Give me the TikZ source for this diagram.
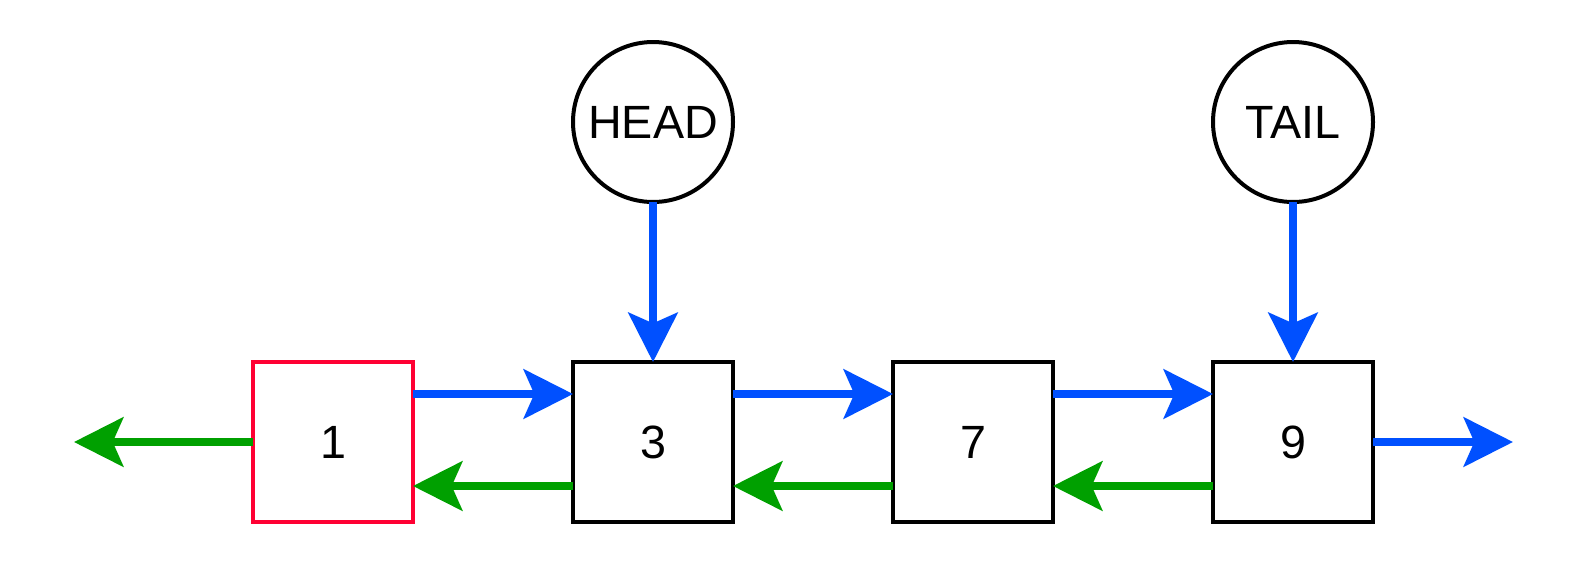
\documentclass[tikz,border=0pt]{standalone}
\usepackage{fontspec}
\setmainfont{Liberation Sans}
\usetikzlibrary{positioning, arrows.meta}
\definecolor{nextblue}{RGB}{0,80,255}
\definecolor{prevgreen}{RGB}{0,160,0}
\definecolor{delred}{RGB}{255,0,51}
\tikzset{
    listbox/.style={draw=black, line width=3pt, minimum size=120pt, inner sep=0pt, outer sep=0pt, font=\fontsize{35}{42}\selectfont},
    delbox/.style={listbox, draw=delred},
    ptrcirc/.style={draw=black, circle, line width=3pt, minimum size=120pt, inner sep=0pt, outer sep=0pt, font=\fontsize{35}{42}\selectfont},
    nextarr/.style={draw=nextblue, line width=5.5pt, -{Stealth[length=37pt, width=37pt, inset=8pt]}},
    prevarr/.style={draw=prevgreen, line width=5.5pt, -{Stealth[length=37pt, width=37pt, inset=8pt]}},
}

\begin{document}
\begin{tikzpicture}[x=0.75pt, y=-0.75pt]
\useasboundingbox (0,0) rectangle (1588,568);

\node[delbox] (n1) at (333,442) {1};
\node[listbox, right=120pt of n1] (n3) {3};
\node[listbox, right=120pt of n3] (n7) {7};
\node[listbox, right=120pt of n7] (n9) {9};
\node[ptrcirc, above=120pt of n3] (head) {HEAD};
\node[ptrcirc, above=120pt of n9] (tail) {TAIL};
\coordinate (leftend) at (74,442);
\coordinate (rightend) at (1513,442);

\draw[nextarr] ([yshift=-24pt]n1.north east) -- ([yshift=-24pt]n3.north west);
\draw[nextarr] ([yshift=-24pt]n3.north east) -- ([yshift=-24pt]n7.north west);
\draw[nextarr] ([yshift=-24pt]n7.north east) -- ([yshift=-24pt]n9.north west);
\draw[nextarr] (n9.east) -- (rightend);
\draw[prevarr] ([yshift=27pt]n3.south west) -- ([yshift=27pt]n1.south east);
\draw[prevarr] ([yshift=27pt]n7.south west) -- ([yshift=27pt]n3.south east);
\draw[prevarr] ([yshift=27pt]n9.south west) -- ([yshift=27pt]n7.south east);
\draw[prevarr] (n1.west) -- (leftend);
\draw[nextarr] (head.south) -- (n3.north);
\draw[nextarr] (tail.south) -- (n9.north);
\end{tikzpicture}
\end{document}
